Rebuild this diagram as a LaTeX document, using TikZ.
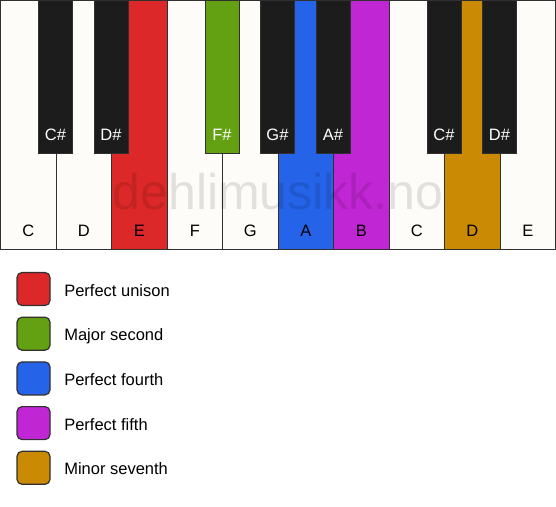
\documentclass[tikz,border=0pt]{standalone}
\usepackage{fontspec}
\setmainfont{Liberation Sans}
\usetikzlibrary{positioning}

\definecolor{keywhite}{HTML}{FDFCF9}
\definecolor{keyblack}{HTML}{1C1C1C}
\definecolor{keyedge}{HTML}{303030}
\definecolor{unison}{HTML}{DC2828}
\definecolor{second}{HTML}{63A012}
\definecolor{fourth}{HTML}{2563E8}
\definecolor{fifth}{HTML}{C026D3}
\definecolor{seventh}{HTML}{CA8A04}

\tikzset{
    whitekey/.style={draw=keyedge, line width=1.2pt, inner sep=0pt, anchor=north west,
        minimum width=55.5pt, minimum height=249pt},
    blackkey/.style={draw=keyedge, line width=1pt, inner sep=0pt, anchor=north,
        minimum width=34pt, minimum height=153pt},
    keyname/.style={font=\fontsize{16.5}{18}\selectfont},
    swatch/.style={draw=keyedge, line width=1.2pt, rounded corners=5pt, minimum size=33pt, inner sep=0pt},
    legendtext/.style={font=\fontsize{16.5}{18}\selectfont, inner sep=0pt, text height=14pt, text depth=0pt}
}

\begin{document}
\begin{tikzpicture}[x=1pt, y=-1pt] % intervals from E on the keyboard
    \useasboundingbox (0,0) rectangle (556,506);
    \fill[white] (0,0) rectangle (556,506);

    \foreach \i/\n/\c in {0/C/keywhite, 1/D/keywhite, 2/E/unison, 3/F/keywhite, 4/G/keywhite,
                          5/A/fourth, 6/B/fifth, 7/C/keywhite, 8/D/seventh, 9/E/keywhite} {
        \node[whitekey, fill=\c] (w\i) at (\i*55.5,0) {};
        \node[keyname, above=10pt of w\i.south] (wl\i) {\n};
    }

    \node[opacity=0.11, font=\fontsize{50}{50}\selectfont] (watermark) at (278,192) {dehlimusikk.no};

    \foreach \i/\n/\c in {1/C\#/keyblack, 2/D\#/keyblack, 4/F\#/second, 5/G\#/keyblack,
                          6/A\#/keyblack, 8/C\#/keyblack, 9/D\#/keyblack} {
        \node[blackkey, fill=\c] (b\i) at (\i*55.5,0) {};
        \node[keyname, white, above=10pt of b\i.south] (bl\i) {\n};
    }

    \node[swatch, fill=unison] (s1) at (33.5,289) {};
    \node[swatch, fill=second, below=10.5pt of s1] (s2) {};
    \node[swatch, fill=fourth, below=10.5pt of s2] (s3) {};
    \node[swatch, fill=fifth, below=10.5pt of s3] (s4) {};
    \node[swatch, fill=seventh, below=10.5pt of s4] (s5) {};

    \node[legendtext, right=13.5pt of s1] (t1) {Perfect unison};
    \node[legendtext, right=13.5pt of s2] (t2) {Major second};
    \node[legendtext, right=13.5pt of s3] (t3) {Perfect fourth};
    \node[legendtext, right=13.5pt of s4] (t4) {Perfect fifth};
    \node[legendtext, right=13.5pt of s5] (t5) {Minor seventh};
\end{tikzpicture}
\end{document}
